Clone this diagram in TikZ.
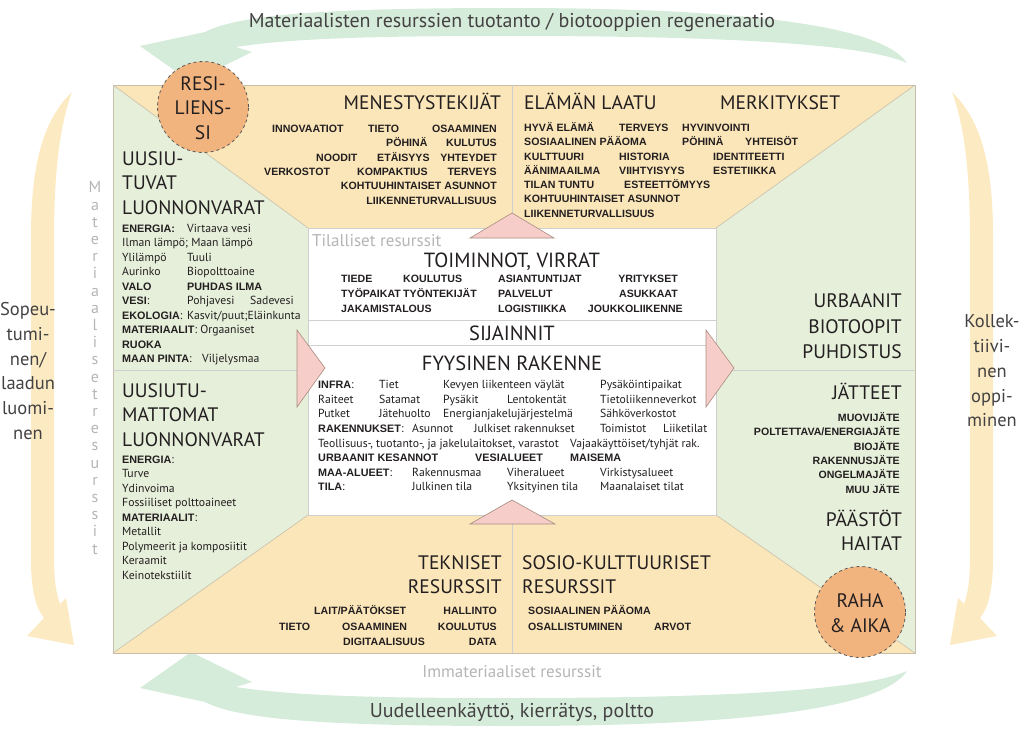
\documentclass[tikz,border=0pt]{standalone}
\usepackage{fontspec}
\setmainfont{PT Sans}
\newfontfamily\bsans{Liberation Sans}
\usetikzlibrary{shapes.geometric}
\definecolor{pyel}{HTML}{FBE6B9}
\definecolor{pgrn}{HTML}{E6EFDA}
\definecolor{agrn}{HTML}{D6ECDA}
\definecolor{ayel}{HTML}{FCEBC2}
\definecolor{corange}{HTML}{F2B47E}
\definecolor{pinkf}{HTML}{F6CDC9}
\definecolor{pinkb}{HTML}{A88D80}
\definecolor{txt}{HTML}{231F20}
\definecolor{gtxt}{HTML}{B5B5B5}
\definecolor{lne}{HTML}{C9BFA8}
\definecolor{boxl}{HTML}{CFCFCF}
\newcommand\B[1]{{\bsans\bfseries\fontsize{10.8}{13}\selectfont #1}}
\newcommand\TW[4][sm]{\node[#1,anchor=base west] (#2) at (#3) {#4};}
\newcommand\TE[4][sm]{\node[#1,anchor=base east] (#2) at (#3) {#4};}
\newcommand\TC[4][sm]{\node[#1,anchor=base] (#2) at (#3) {#4};}
\tikzset{
  sm/.style={font=\bsans\bfseries\fontsize{10.6}{12}\selectfont, text=txt, inner sep=0pt},
  rg/.style={font=\fontsize{11.7}{13}\selectfont, text=txt, inner sep=0pt},
  hd/.style={font=\fontsize{19.5}{23}\selectfont, text=txt, inner sep=0pt},
  hb/.style={font=\fontsize{20.5}{24}\selectfont, text=txt, inner sep=0pt},
  gl/.style={font=\fontsize{17}{20}\selectfont, text=gtxt, inner sep=0pt},
  ol/.style={font=\fontsize{20}{24.8}\selectfont, text=txt!85, inner sep=0pt},
  sl/.style={font=\fontsize{18.5}{24.8}\selectfont, text=txt!85, inner sep=0pt},
  circ/.style={circle, minimum size=91pt, fill=corange, draw=black!65, dashed, line width=0.8pt},
  tri/.style={fill=pinkf, draw=pinkb, line width=0.6pt, line join=miter},
  pline/.style={draw=lne, line width=0.6pt},
  bline/.style={draw=boxl, line width=0.8pt}
}
\begin{document}
\begin{tikzpicture}[x=1pt,y=-1pt]
\useasboundingbox (0,0) rectangle (1024,734);
% outer arrows
\fill[agrn] (907,63) .. controls (880,22) and (720,8) .. (512,8) .. controls (330,8) and (240,14) .. (205,32)
  -- (140,46) -- (191,82) -- (252,52) -- (236,47) .. controls (300,37) and (400,36) .. (512,36)
  .. controls (700,36) and (860,42) .. (907,63) -- cycle;
\fill[agrn] (907,671) .. controls (880,712) and (720,726) .. (512,726) .. controls (330,726) and (240,720) .. (205,702)
  -- (140,688) -- (191,652) -- (252,682) -- (236,687) .. controls (300,697) and (400,698) .. (512,698)
  .. controls (700,698) and (860,692) .. (907,671) -- cycle;
\fill[ayel] (72,92) .. controls (45,118) and (31,160) .. (31,235) -- (31,560) .. controls (31,590) and (36,608) .. (44,618)
  -- (27,636) -- (74,645) -- (66,598) -- (60,604) .. controls (55,590) and (54,575) .. (54,555)
  -- (54,240) .. controls (54,170) and (60,125) .. (72,92) -- cycle;
\fill[ayel] (952,92) .. controls (979,118) and (993,160) .. (993,235) -- (993,560) .. controls (993,590) and (988,608) .. (980,618)
  -- (997,636) -- (950,645) -- (958,598) -- (964,604) .. controls (969,590) and (970,575) .. (970,555)
  -- (970,240) .. controls (970,170) and (964,125) .. (952,92) -- cycle;
% panels
\fill[pyel] (113,85) -- (915,85) -- (716,228) -- (308,228) -- cycle;
\fill[pyel] (113,653) -- (915,653) -- (716,515) -- (308,515) -- cycle;
\fill[pgrn] (113,85) -- (308,228) -- (308,515) -- (113,653) -- cycle;
\fill[pgrn] (915,85) -- (716,228) -- (716,515) -- (915,653) -- cycle;
\draw[pline] (113,85) rectangle (915,653);
\draw[pline] (113,85) -- (308,228) (915,85) -- (716,228) (113,653) -- (308,515) (915,653) -- (716,515);
\draw[bline] (512,85) -- (512,228) (512,515) -- (512,653) (113,370) -- (308,370) (716,370) -- (915,370);
\draw[bline, fill=white] (308,228) rectangle (716,515);
\draw[bline] (308,320) -- (716,320) (308,345) -- (716,345);
% triangles
\draw[tri] (470,238) -- (554,238) -- (512,213) -- cycle;
\draw[tri] (470,524) -- (555,524) -- (512,500) -- cycle;
\draw[tri] (297,330) -- (325,368) -- (297,407) -- cycle;
\draw[tri] (706,330) -- (734,368) -- (706,407) -- cycle;
% circles
\node[circ] (res) at (203,107) {};
\node[hd, align=center, font=\fontsize{19.5}{24.5}\selectfont] (rest) at (203,108) {RESI-\\LIENS-\\SI};
\node[circ] (raha) at (860,612) {};
\node[hd, align=center, font=\fontsize{19.5}{25}\selectfont] (rahat) at (860,613) {RAHA\\\& AIKA};
% top middle
\TE[hd]{mt}{501,109}{MENESTYSTEKIJÄT}
\TW{m1}{272,132}{INNOVAATIOT}
\TW{m2}{368,132}{TIETO}
\TE{m3}{497,132}{OSAAMINEN}
\TW{m4}{386,146}{PÖHINÄ}
\TE{m5}{497,146}{KULUTUS}
\TW{m6}{316,161}{NOODIT}
\TW{m7}{377,161}{ETÄISYYS}
\TE{m8}{497,161}{YHTEYDET}
\TW{m9}{264,175}{VERKOSTOT}
\TW{m10}{357,175}{KOMPAKTIUS}
\TE{m11}{497,175}{TERVEYS}
\TE{m12}{497,189}{KOHTUUHINTAISET ASUNNOT}
\TE{m13}{497,204}{LIIKENNETURVALLISUUS}
% top right
\TW[hd]{et}{524,109}{ELÄMÄN LAATU}
\TW[hd]{mk}{720,109}{MERKITYKSET}
\TW{e1}{524,131}{HYVÄ ELÄMÄ} \TW{e2}{619,131}{TERVEYS} \TW{e3}{682,131}{HYVINVOINTI}
\TW{e4}{524,145}{SOSIAALINEN PÄÄOMA} \TW{e5}{682,145}{PÖHINÄ} \TW{e6}{745,145}{YHTEISÖT}
\TW{e7}{524,160}{KULTTUURI} \TW{e8}{619,160}{HISTORIA} \TW{e9}{713,160}{IDENTITEETTI}
\TW{e10}{524,174}{ÄÄNIMAAILMA} \TW{e11}{619,174}{VIIHTYISYYS} \TW{e12}{713,174}{ESTETIIKKA}
\TW{e13}{524,188}{TILAN TUNTU} \TW{e14}{624,188}{ESTEETTÖMYYS}
\TW{e15}{524,202}{KOHTUUHINTAISET ASUNNOT}
\TW{e16}{524,217}{LIIKENNETURVALLISUUS}
% upper left
\TW[hd]{u1}{122,165}{UUSIU-}
\TW[hd]{u2}{122,189}{TUVAT}
\TW[hd]{u3}{122,214}{LUONNONVARAT}
\TW[rg]{ua1}{122,232}{\B{ENERGIA:}} \TW[rg]{ub1}{187,232}{Virtaava vesi}
\TW[rg]{ua2}{122,246}{Ilman lämpö; Maan lämpö}
\TW[rg]{ua3}{122,261}{Ylilämpö} \TW[rg]{ub3}{187,261}{Tuuli}
\TW[rg]{ua4}{122,275}{Aurinko} \TW[rg]{ub4}{187,275}{Biopolttoaine}
\TW[rg]{ua5}{122,290}{\B{VALO}} \TW[rg]{ub5}{187,290}{\B{PUHDAS ILMA}}
\TW[rg]{ua6}{122,304}{\B{VESI}:} \TW[rg]{ub6}{187,304}{Pohjavesi} \TW[rg]{uc6}{250,304}{Sadevesi}
\TW[rg]{ua7}{122,319}{\B{EKOLOGIA}:} \TW[rg]{ub7}{187,319}{Kasvit/puut;Eläinkunta}
\TW[rg]{ua8}{122,333}{\B{MATERIAALIT}: Orgaaniset}
\TW[rg]{ua9}{122,348}{\B{RUOKA}}
\TW[rg]{ua10}{122,362}{\B{MAAN PINTA}:} \TW[rg]{ub10}{202,362}{Viljelysmaa}
% lower left
\TW[hd]{l1}{122,397}{UUSIUTU-}
\TW[hd]{l2}{122,421}{MATTOMAT}
\TW[hd]{l3}{122,446}{LUONNONVARAT}
\TW[rg]{la1}{122,463}{\B{ENERGIA}:}
\TW[rg]{la2}{122,477.5}{Turve}
\TW[rg]{la3}{122,492}{Ydinvoima}
\TW[rg]{la4}{122,506.5}{Fossiiliset polttoaineet}
\TW[rg]{la5}{122,521}{\B{MATERIAALIT}:}
\TW[rg]{la6}{122,535.5}{Metallit}
\TW[rg]{la7}{122,550}{Polymeerit ja komposiitit}
\TW[rg]{la8}{122,564.5}{Keraamit}
\TW[rg]{la9}{122,579}{Keinotekstiilit}
% center box
\TW[gl]{tr}{312,246}{Tilalliset resurssit}
\TC[hb]{tv}{512,267}{TOIMINNOT, VIRRAT}
\TW{c1}{341,282}{TIEDE} \TW{c2}{403,282}{KOULUTUS} \TW{c3}{498,282}{ASIANTUNTIJAT} \TE{c4}{678,282}{YRITYKSET}
\TW{c5}{341,297}{TYÖPAIKAT} \TW{c6}{403,297}{TYÖNTEKIJÄT} \TW{c7}{498,297}{PALVELUT} \TE{c8}{678,297}{ASUKKAAT}
\TW{c9}{341,312}{JAKAMISTALOUS} \TW{c10}{498,312}{LOGISTIIKKA} \TE{c11}{683,312}{JOUKKOLIIKENNE}
\TC[hb]{sj}{512,340}{SIJAINNIT}
\TC[hb]{fr}{512,370}{FYYSINEN RAKENNE}
\TW[rg]{f1}{318,388}{\B{INFRA}:} \TW[rg]{f2}{379,388}{Tiet} \TW[rg]{f3}{443,388}{Kevyen liikenteen väylät} \TW[rg]{f4}{600,388}{Pysäköintipaikat}
\TW[rg]{f5}{318,403}{Raiteet} \TW[rg]{f6}{379,403}{Satamat} \TW[rg]{f7}{443,403}{Pysäkit} \TW[rg]{f8}{507,403}{Lentokentät} \TW[rg]{f9}{600,403}{Tietoliikenneverkot}
\TW[rg]{f10}{318,417}{Putket} \TW[rg]{f11}{379,417}{Jätehuolto} \TW[rg]{f12}{443,417}{Energianjakelujärjestelmä} \TW[rg]{f13}{600,417}{Sähköverkostot}
\TW[rg]{f14}{318,432}{\B{RAKENNUKSET}:} \TW[rg]{f15}{412,432}{Asunnot} \TW[rg]{f16}{474,432}{Julkiset rakennukset} \TW[rg]{f17}{600,432}{Toimistot} \TW[rg]{f18}{663,432}{Liiketilat}
\TW[rg]{f19}{318,447}{Teollisuus-, tuotanto-, ja jakelulaitokset, varastot} \TW[rg]{f20}{570,447}{Vajaakäyttöiset/tyhjät rak.}
\TW[rg]{f21}{318,461}{\B{URBAANIT KESANNOT}} \TW[rg]{f22}{475,461}{\B{VESIALUEET}} \TW[rg]{f23}{570,461}{\B{MAISEMA}}
\TW[rg]{f24}{318,476}{\B{MAA-ALUEET}:} \TW[rg]{f25}{412,476}{Rakennusmaa} \TW[rg]{f26}{507,476}{Viheralueet} \TW[rg]{f27}{600,476}{Virkistysalueet}
\TW[rg]{f28}{318,490}{\B{TILA}:} \TW[rg]{f29}{412,490}{Julkinen tila} \TW[rg]{f30}{507,490}{Yksityinen tila} \TW[rg]{f31}{600,490}{Maanalaiset tilat}
% right panel
\TE[hd]{rb1}{902,307}{URBAANIT}
\TE[hd]{rb2}{902,333}{BIOTOOPIT}
\TE[hd]{rb3}{902,358}{PUHDISTUS}
\TE[hd]{jt}{902,399}{JÄTTEET}
\TE{j1}{900,421}{MUOVIJÄTE}
\TE{j2}{900,435}{POLTETTAVA/ENERGIAJÄTE}
\TE{j3}{900,450}{BIOJÄTE}
\TE{j4}{900,464}{RAKENNUSJÄTE}
\TE{j5}{900,478}{ONGELMAJÄTE}
\TE{j6}{900,493}{MUU JÄTE}
\TE[hd]{ps}{902,526}{PÄÄSTÖT}
\TE[hd]{ht}{902,550}{HAITAT}
% bottom
\TE[hd]{tk1}{502,569}{TEKNISET}
\TE[hd]{tk2}{502,593}{RESURSSIT}
\TW[hd]{so1}{522,569}{SOSIO-KULTTUURISET}
\TW[hd]{so2}{522,593}{RESURSSIT}
\TW{b1}{314,614}{LAIT/PÄÄTÖKSET} \TE{b2}{497,614}{HALLINTO}
\TW{b3}{279,630}{TIETO} \TW{b4}{342,630}{OSAAMINEN} \TE{b5}{497,630}{KOULUTUS}
\TW{b6}{343,645}{DIGITAALISUUS} \TE{b7}{497,645}{DATA}
\TW{b8}{528,614}{SOSIAALINEN PÄÄOMA}
\TW{b9}{528,630}{OSALLISTUMINEN} \TW{b10}{654,630}{ARVOT}
\TC[gl]{im}{512,677}{Immateriaaliset resurssit}
% vertical label
\node[gl, align=center, font=\fontsize{16}{17.2}\selectfont] (mr) at (95,368) {M\\a\\t\\e\\r\\i\\a\\a\\l\\i\\s\\e\\t\\r\\e\\s\\u\\r\\s\\s\\i\\t};
% outer labels
\node[ol] (topt) at (512,22) {Materiaalisten resurssien tuotanto / biotooppien regeneraatio};
\node[ol] (bott) at (512,712) {Uudelleenkäyttö, kierrätys, poltto};
\node[sl, align=center] (lft) at (28,371) {Sopeu-\\tumi-\\nen/\\laadun\\luomi-\\nen};
\node[sl, align=center] (rgt) at (992,371) {Kollek-\\tiivi-\\nen\\oppi-\\minen};
\end{tikzpicture}
\end{document}
